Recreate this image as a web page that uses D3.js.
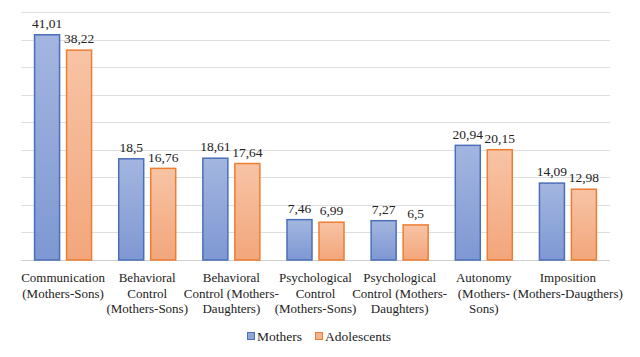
<!DOCTYPE html>
<html><head><meta charset="utf-8">
<script src="https://cdn.jsdelivr.net/npm/d3@7"></script>
<style>body{margin:0;background:#fff}svg{display:block}svg text{font-family:"Liberation Serif",serif !important}</style>
</head><body><svg id="c" width="640" height="357"></svg>
<script>
const categories = ["Communication (Mothers-Sons)","Behavioral Control (Mothers-Sons)","Behavioral Control (Mothers-Daughters)","Psychological Control (Mothers-Sons)","Psychological Control (Mothers-Daughters)","Autonomy (Mothers-Sons)","Imposition (Mothers-Daugthers)"];
const categoryLines = [["Communication","(Mothers-Sons)"],["Behavioral","Control","(Mothers-Sons)"],["Behavioral","Control (Mothers-","Daughters)"],["Psychological","Control","(Mothers-Sons)"],["Psychological","Control (Mothers-","Daughters)"],["Autonomy","(Mothers-","Sons)"],["Imposition","(Mothers-Daugthers)"]];
const mothers = [41.01,18.5,18.61,7.46,7.27,20.94,14.09];
const adolescents = [38.22,16.76,17.64,6.99,6.5,20.15,12.98];
const mothersLabels = ["41,01","18,5","18,61","7,46","7,27","20,94","14,09"];
const adolescentsLabels = ["38,22","16,76","17,64","6,99","6,5","20,15","12,98"];
const seriesNames = ["Mothers","Adolescents"];
const yTicks = [0,5,10,15,20,25,30,35,40,45];

const FONT = "Liberation Serif";
const svg = d3.select("#c");
const mLeft = 21, mRight = 610, mTop = 12, mBottom = 260;
const x = d3.scaleBand().domain(categories).range([mLeft,mRight]).paddingInner(0).paddingOuter(0);
const y = d3.scaleLinear().domain([0,45]).range([mBottom,mTop]);
const defs = svg.append("defs");
const grads = [["gM","#a3b6e0","#7f98d3"],["gA","#f7c4a5","#f3a67b"]];
grads.forEach(([id,c1,c2])=>{
  const g = defs.append("linearGradient").attr("id",id).attr("x1",0).attr("y1",0).attr("x2",0).attr("y2",1);
  g.append("stop").attr("offset","0%").attr("stop-color",c1);
  g.append("stop").attr("offset","100%").attr("stop-color",c2);
});
svg.append("g").selectAll("line").data(yTicks).join("line")
  .attr("x1",mLeft).attr("x2",mRight).attr("y1",d=>Math.round(y(d))+0.5).attr("y2",d=>Math.round(y(d))+0.5)
  .attr("stroke",d=>d===0?"#cfcfcf":"#dedede").attr("stroke-width",1);

const bw = 26.5, gap = 5.5;
const series = [
  {name:seriesNames[0], vals:mothers, labels:mothersLabels, fill:"url(#gM)", stroke:"#4a6fb8", off:-(gap/2+bw)},
  {name:seriesNames[1], vals:adolescents, labels:adolescentsLabels, fill:"url(#gA)", stroke:"#ed7d31", off:gap/2}
];
function txt(sel, fs){ return sel.style("font-family",FONT,"important").style("font-size",(fs||13)+"px").attr("fill","#222"); }
series.forEach(s=>{
  const g = svg.append("g");
  g.selectAll("rect").data(s.vals).join("rect")
    .attr("x",(d,i)=>x(categories[i])+x.bandwidth()/2+s.off+0.75)
    .attr("y",d=>y(d)+0.75).attr("width",bw-1.5).attr("height",d=>mBottom-y(d)-0.75)
    .attr("fill",s.fill).attr("stroke",s.stroke).attr("stroke-width",1.5);
  txt(g.selectAll("text").data(s.vals).join("text")
    .attr("x",(d,i)=>x(categories[i])+x.bandwidth()/2+s.off+bw/2)
    .attr("y",d=>y(d)-6).attr("text-anchor","middle"), 13.5)
    .text((d,i)=>s.labels[i]);
});
categoryLines.forEach((lines,i)=>{
  const t = txt(svg.append("text").attr("text-anchor","middle")
    .attr("x",x(categories[i])+x.bandwidth()/2).attr("y",282), 13);
  lines.forEach((l,j)=>t.append("tspan").attr("x",x(categories[i])+x.bandwidth()/2).attr("dy",j?15.7:0).text(l));
});
const leg = [{n:seriesNames[0],f:"#8ea6da",s:"#4a6fb8",x:247},{n:seriesNames[1],f:"#f5b48e",s:"#ed7d31",x:315}];
leg.forEach(l=>{
  svg.append("rect").attr("x",l.x+0.5).attr("y",332.5).attr("width",7).attr("height",7).attr("fill",l.f).attr("stroke",l.s).attr("stroke-width",1);
  txt(svg.append("text").attr("x",l.x+10).attr("y",340.5), 13.5).text(l.n);
});
</script></body></html>
